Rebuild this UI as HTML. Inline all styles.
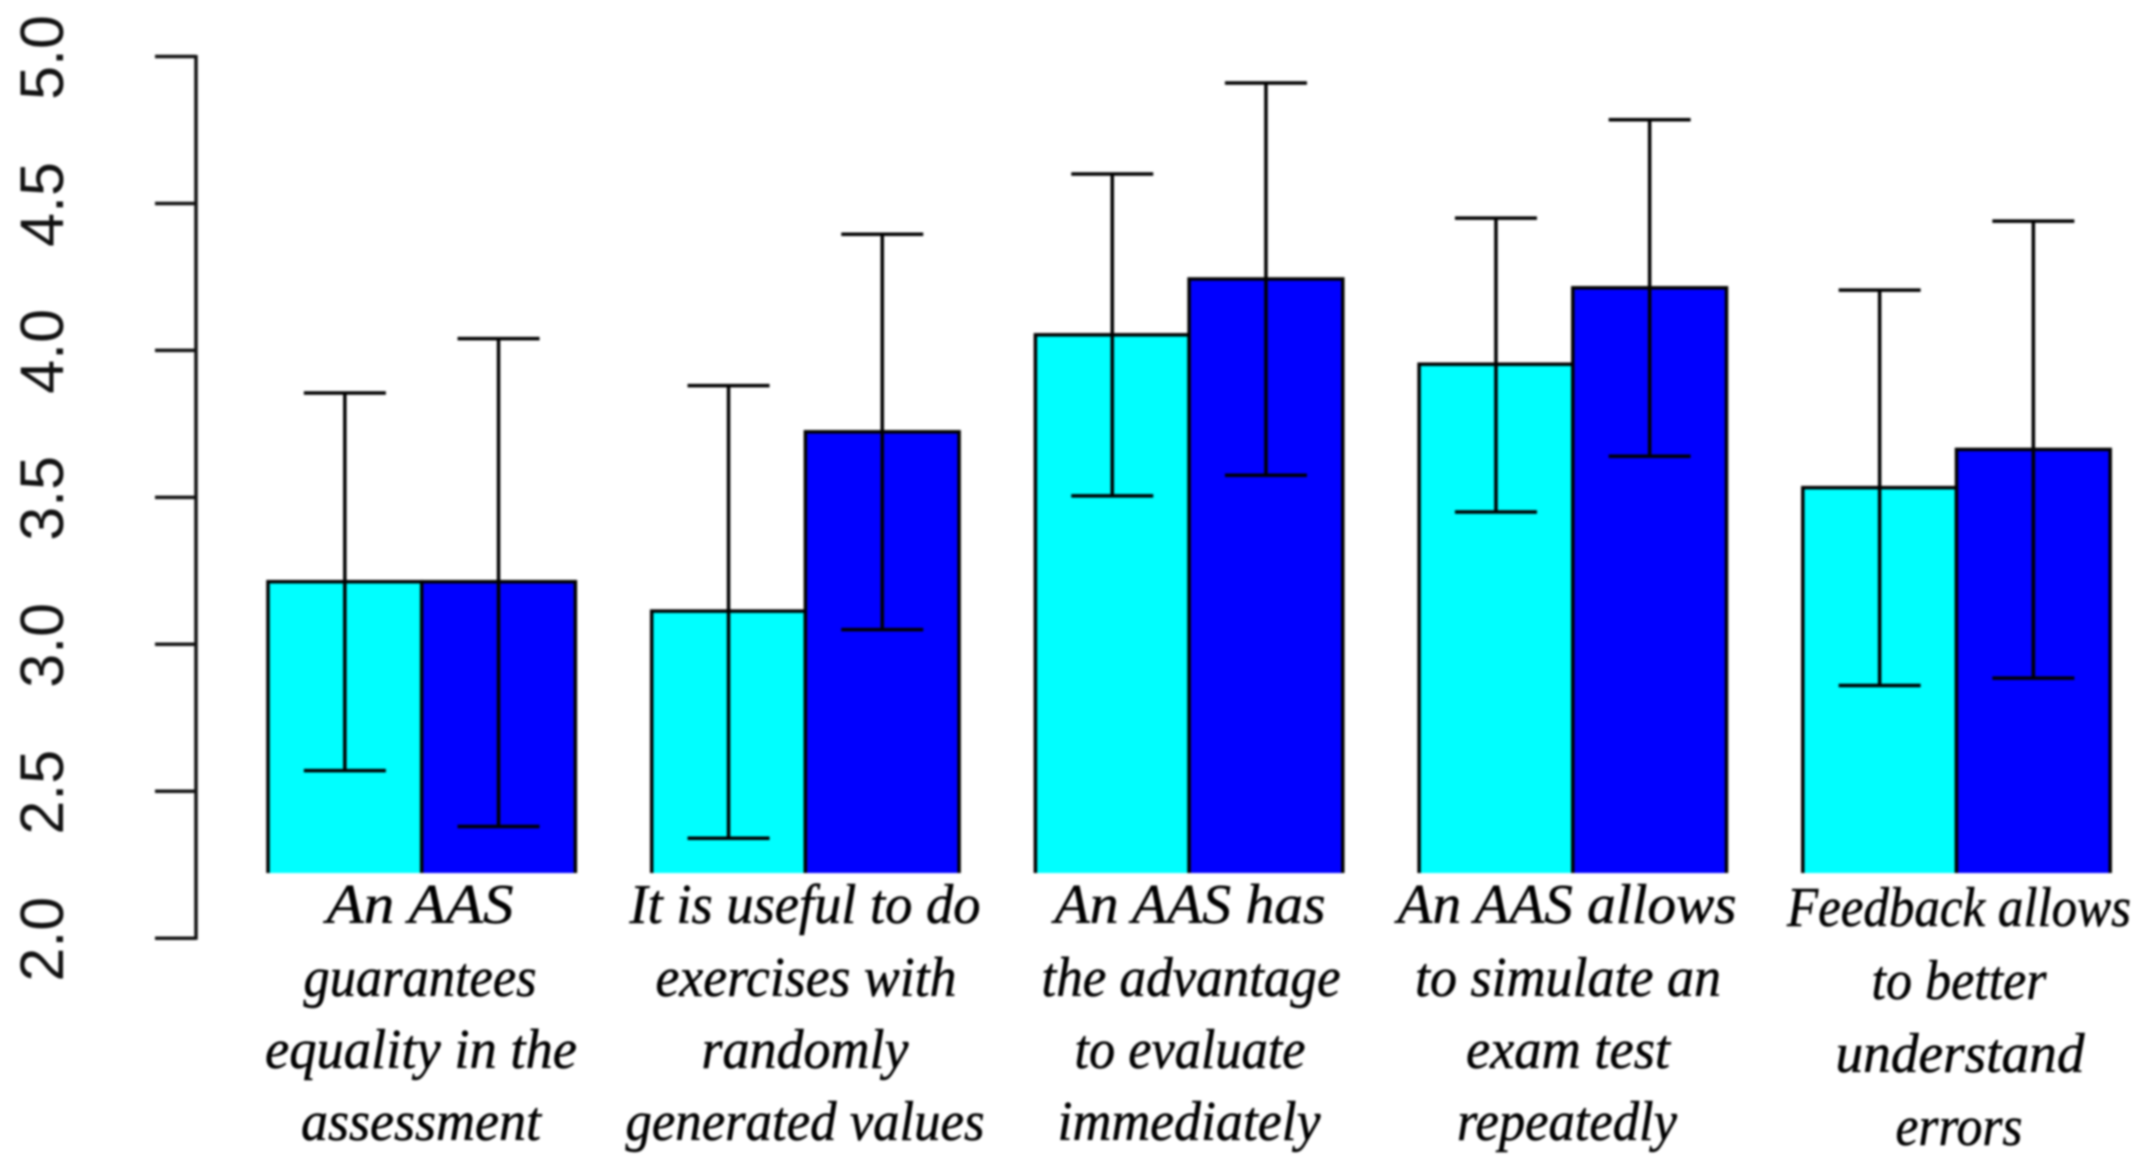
<!DOCTYPE html>
<html lang="en">
<head>
<meta charset="utf-8">
<title>AAS survey bar chart</title>
<style>
  html, body { margin: 0; padding: 0; background: #fff; }
  svg { display: block; filter: blur(1px); }
  .tick-label { font-family: "Liberation Sans", sans-serif; font-size: 61px; fill: #111; text-anchor: middle; }
  .cat-label { font-family: "Liberation Serif", serif; font-style: italic; font-size: 56px; fill: #000; stroke: #000; stroke-width: 0.5px; text-anchor: middle; }
</style>
</head>
<body>
<svg id="chart" width="2142" height="1175" viewBox="0 0 2142 1175" xmlns="http://www.w3.org/2000/svg">
  <defs>
    <clipPath id="plot-clip"><rect x="200" y="0" width="1942" height="873"></rect></clipPath>
  </defs>
  <g id="axis"></g>
  <g id="bars" clip-path="url(#plot-clip)"></g>
  <g id="errors"></g>
  <g>
    <g>
      <text class="cat-label" x="420" y="923" textLength="187" lengthAdjust="spacingAndGlyphs">An AAS</text>
      <text class="cat-label" x="420" y="996" textLength="233" lengthAdjust="spacingAndGlyphs">guarantees</text>
      <text class="cat-label" x="421" y="1068" textLength="312" lengthAdjust="spacingAndGlyphs">equality in the</text>
      <text class="cat-label" x="421" y="1140" textLength="240" lengthAdjust="spacingAndGlyphs">assessment</text>
    </g>
    <g>
      <text class="cat-label" x="805" y="923" textLength="351" lengthAdjust="spacingAndGlyphs">It is useful to do</text>
      <text class="cat-label" x="806" y="996" textLength="301" lengthAdjust="spacingAndGlyphs">exercises with</text>
      <text class="cat-label" x="805" y="1068" textLength="207" lengthAdjust="spacingAndGlyphs">randomly</text>
      <text class="cat-label" x="805" y="1140" textLength="359" lengthAdjust="spacingAndGlyphs">generated values</text>
    </g>
    <g>
      <text class="cat-label" x="1190" y="923" textLength="271" lengthAdjust="spacingAndGlyphs">An AAS has</text>
      <text class="cat-label" x="1191" y="996" textLength="299" lengthAdjust="spacingAndGlyphs">the advantage</text>
      <text class="cat-label" x="1190" y="1068" textLength="231" lengthAdjust="spacingAndGlyphs">to evaluate</text>
      <text class="cat-label" x="1189" y="1140" textLength="263" lengthAdjust="spacingAndGlyphs">immediately</text>
    </g>
    <g>
      <text class="cat-label" x="1567" y="923" textLength="339" lengthAdjust="spacingAndGlyphs">An AAS allows</text>
      <text class="cat-label" x="1568" y="996" textLength="306" lengthAdjust="spacingAndGlyphs">to simulate an</text>
      <text class="cat-label" x="1568" y="1068" textLength="204" lengthAdjust="spacingAndGlyphs">exam test</text>
      <text class="cat-label" x="1567" y="1140" textLength="220" lengthAdjust="spacingAndGlyphs">repeatedly</text>
    </g>
    <g>
      <text class="cat-label" x="1959" y="926" textLength="344" lengthAdjust="spacingAndGlyphs">Feedback allows</text>
      <text class="cat-label" x="1959" y="999" textLength="175" lengthAdjust="spacingAndGlyphs">to better</text>
      <text class="cat-label" x="1960" y="1072" textLength="249" lengthAdjust="spacingAndGlyphs">understand</text>
      <text class="cat-label" x="1959" y="1145" textLength="127" lengthAdjust="spacingAndGlyphs">errors</text>
    </g>
  </g>
</svg>
<script>
// Chart data
const categories = ["An AAS guarantees equality in the assessment", "It is useful to do exercises with randomly generated values", "An AAS has the advantage to evaluate immediately", "An AAS allows to simulate an exam test repeatedly", "Feedback allows to better understand errors"];
const tickLabels = ["2.0", "2.5", "3.0", "3.5", "4.0", "4.5", "5.0"];
const cyanMeans = [3.213, 3.113, 4.053, 3.953, 3.533];
const cyanUpper = [3.855, 3.88, 4.60, 4.45, 4.205];
const cyanLower = [2.57, 2.34, 3.505, 3.45, 2.86];
const blueMeans = [3.213, 3.723, 4.243, 4.213, 3.663];
const blueUpper = [4.04, 4.395, 4.91, 4.785, 4.44];
const blueLower = [2.38, 3.05, 3.575, 3.64, 2.885];

const NS = "http://www.w3.org/2000/svg";
const yScale = v => 938.2 - (v - 2) * 293.9;
const groupLeft = i => 268 + i * 383.7;
const BAR_W = 153.7;
const barX = (i, s) => groupLeft(i) + s * BAR_W;

function make(tag, attrs, parent) {
  const el = document.createElementNS(NS, tag);
  for (const k in attrs) el.setAttribute(k, attrs[k]);
  parent.appendChild(el);
  return el;
}

const axisG = document.getElementById("axis");
const barsG = document.getElementById("bars");
const errG = document.getElementById("errors");
const AXIS_X = 196;
const LINE_W = 3.5;

const axisLine = make("line", { x1: AXIS_X, x2: AXIS_X, y1: yScale(2) + 1.5, y2: yScale(5) - 1.5, stroke: "#111", "stroke-width": LINE_W }, axisG);



tickLabels.forEach(t => {
  const v = parseFloat(t);
  const y = yScale(v);
  const tick = make("line", { x1: 155, x2: AXIS_X, y1: y, y2: y, stroke: "#111", "stroke-width": LINE_W }, axisG);
  
  
  const lab = make("text", { class: "tick-label", transform: "translate(63," + (y + 1) + ") rotate(-90)" }, axisG);
  
  
  lab.textContent = t;
});

function drawSeries(means, upper, lower, s, fill, seriesName) {
  categories.forEach((c, i) => {
    const x = barX(i, s);
    const y = yScale(means[i]);
    const bar = make("rect", { x: x, y: y, width: BAR_W, height: 960 - y, fill: fill, stroke: "#000", "stroke-width": LINE_W }, barsG);
    
    
    const title = make("title", {}, bar);
    title.textContent = c;

    const cx = x + BAR_W / 2;
    const yu = yScale(upper[i]);
    const yl = yScale(lower[i]);
    const stem = make("line", { x1: cx, x2: cx, y1: yu, y2: yl, stroke: "#000", "stroke-width": LINE_W }, errG);
    
    
    const capU = make("line", { x1: cx - 41, x2: cx + 41, y1: yu, y2: yu, stroke: "#000", "stroke-width": LINE_W }, errG);
    
    
    const capL = make("line", { x1: cx - 41, x2: cx + 41, y1: yl, y2: yl, stroke: "#000", "stroke-width": LINE_W }, errG);
    
    
  });
}

drawSeries(cyanMeans, cyanUpper, cyanLower, 0, "#00ffff", "cyan");
drawSeries(blueMeans, blueUpper, blueLower, 1, "#0000ff", "blue");
</script>
</body>
</html>
